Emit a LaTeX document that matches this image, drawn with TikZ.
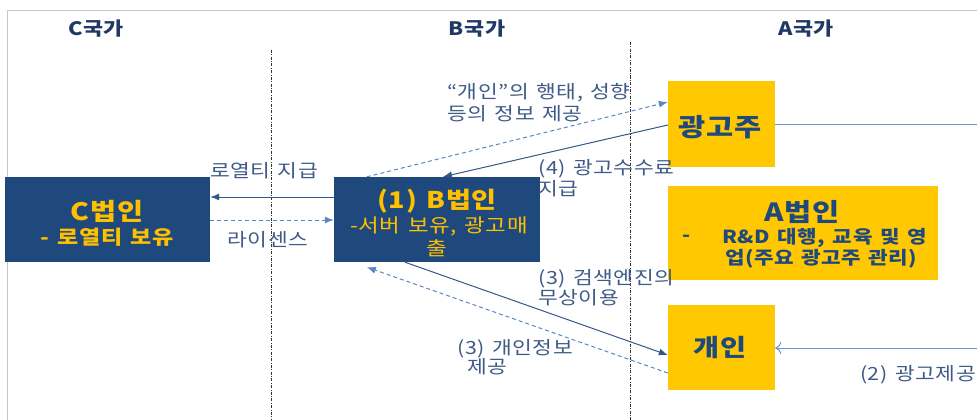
\documentclass[tikz,border=0pt]{standalone}
\usepackage{fontspec}
\setmainfont{Noto Sans CJK KR}[FakeStretch=1.18, LetterSpace=3, WordSpace=1.4]
\usetikzlibrary{arrows.meta}
\definecolor{navy}{HTML}{1F497D}
\definecolor{boxyellow}{HTML}{FFC800}
\definecolor{txtyellow}{HTML}{FFC000}
\definecolor{lbl}{HTML}{3E5A86}
\definecolor{head}{HTML}{1F3864}
\definecolor{solidc}{HTML}{34578A}
\definecolor{dashc}{HTML}{5B86C5}
\definecolor{lightc}{HTML}{6A93CF}
\newcommand{\fs}[1]{\fontsize{#1}{#1}\selectfont}
\begin{document}
\begin{tikzpicture}[x=1pt,y=-1pt,
  navybox/.style={fill=navy, text=txtyellow, inner sep=0pt, align=center},
  yelbox/.style={fill=boxyellow, text=navy, inner sep=0pt, align=center, font=\bfseries},
  lab/.style={text=lbl, inner sep=0pt, font=\fs{18.2}},
  headtxt/.style={text=head, inner sep=0pt, font=\fs{18.5}\bfseries},
  solidarr/.style={draw=solidc, line width=1pt, -{Latex[length=9pt,width=7pt]}},
  dasharr/.style={draw=dashc, line width=1pt, dash pattern=on 4pt off 3pt, -{Latex[length=9pt,width=7pt]}},
  lightline/.style={draw=lightc, line width=1pt},
  divider/.style={draw=black!80, line width=0.7pt, dash pattern=on 3pt off 1.5pt on 0.7pt off 1.5pt}
]
\useasboundingbox (0,0) rectangle (977,420);
% frame lines
\draw[gray!45, line width=0.8pt] (7,10) -- (977,10);
\draw[gray!45, line width=0.8pt] (7,10) -- (7,420);
% dividers
\draw[divider] (271,50) -- (271,420);
\draw[divider] (630,42) -- (630,420);
% headers
\node[headtxt] (hc) at (96,29) {C국가};
\node[headtxt] (hb) at (477,29) {B국가};
\node[headtxt] (ha) at (806,29) {A국가};
% boxes
\node[navybox, minimum width=205pt, minimum height=85pt] (C) at (107.5,219.5) {};
\node[text=txtyellow, inner sep=0pt, font=\fs{24}\bfseries] (Ct) at (107,211) {C법인};
\node[text=txtyellow, inner sep=0pt, font=\fs{19.5}\bfseries] (Cs) at (107,237) {- 로열티 보유};
\node[navybox, minimum width=206pt, minimum height=85pt] (B) at (437,219.5) {};
\node[text=txtyellow, inner sep=0pt, font=\fs{23}\bfseries] (Bt) at (437,201) {(1) B법인};
\node[text=txtyellow, inner sep=0pt, font=\fs{19}] (Bs1) at (439,226) {-서버 보유, 광고매};
\node[text=txtyellow, inner sep=0pt, font=\fs{19}] (Bs2) at (437,248) {출};
\node[yelbox, minimum width=107pt, minimum height=86pt] (adv) at (721.5,124) {};
\node[text=navy, inner sep=0pt, font=\fs{25}\bfseries] (advt) at (720,127) {광고주};
\node[yelbox, minimum width=270pt, minimum height=94pt] (A) at (803,233) {};
\node[text=navy, inner sep=0pt, font=\fs{25}\bfseries] (At) at (802,212) {A법인};
\node[text=navy, inner sep=0pt, font=\fs{18}\bfseries, anchor=west] (Ad) at (682,238) {-};
\node[text=navy, inner sep=0pt, font=\fs{18}\bfseries, anchor=west] (As1) at (722,238) {R\&D 대행, 교육 및 영};
\node[text=navy, inner sep=0pt, font=\fs{18}\bfseries, anchor=west] (As2) at (725,259) {업(주요 광고주 관리)};
\node[yelbox, minimum width=107pt, minimum height=85pt] (ind) at (721.5,347.5) {};
\node[text=navy, inner sep=0pt, font=\fs{24}\bfseries] (indt) at (720,347) {개인};
% coordinates at the right edge
\coordinate (advR) at (977,124);
\coordinate (indR) at (977,348);
% connectors
\draw[solidarr] ([yshift=22.5pt]B.west) -- ([yshift=22.5pt]C.east);
\draw[dasharr] ([yshift=-0.5pt]C.east) -- ([yshift=-0.5pt]B.west);
\draw[dasharr] ([xshift=33pt]B.north west) -- ([yshift=22pt]adv.west);
\draw[solidarr] ([yshift=-1pt]adv.west) -- ([xshift=6pt]B.north);
\draw[solidarr] ([xshift=-32pt]B.south) -- ([yshift=-7.5pt]ind.west);
\draw[dasharr] ([yshift=-25.5pt]ind.west) -- ([xshift=33pt,yshift=-5pt]B.south west);
\draw[lightline] (adv.east) -- (advR);
\draw[lightline, -{To[length=6pt,width=12pt]}] (indR) -- ([yshift=-0.5pt]ind.east);
% labels
\node[lab] (l1) at (264,171) {로열티 지급};
\node[lab] (l2) at (268,240) {라이센스};
\node[lab, anchor=west] (l3a) at (447,93) {“개인”의 행태, 성향};
\node[lab, anchor=west] (l3b) at (447,114) {등의 정보 제공};
\node[lab, anchor=west] (l4a) at (538,169) {(4) 광고수수료};
\node[lab, anchor=west] (l4b) at (538,189) {지급};
\node[lab, anchor=west] (l5a) at (538,279) {(3) 검색엔진의};
\node[lab, anchor=west] (l5b) at (538,298) {무상이용};
\node[lab, anchor=west] (l6a) at (457,349) {(3) 개인정보};
\node[lab, anchor=west] (l6b) at (467,367) {제공};
\node[lab, anchor=east] (l7) at (976,375) {(2) 광고제공};
\end{tikzpicture}
\end{document}
